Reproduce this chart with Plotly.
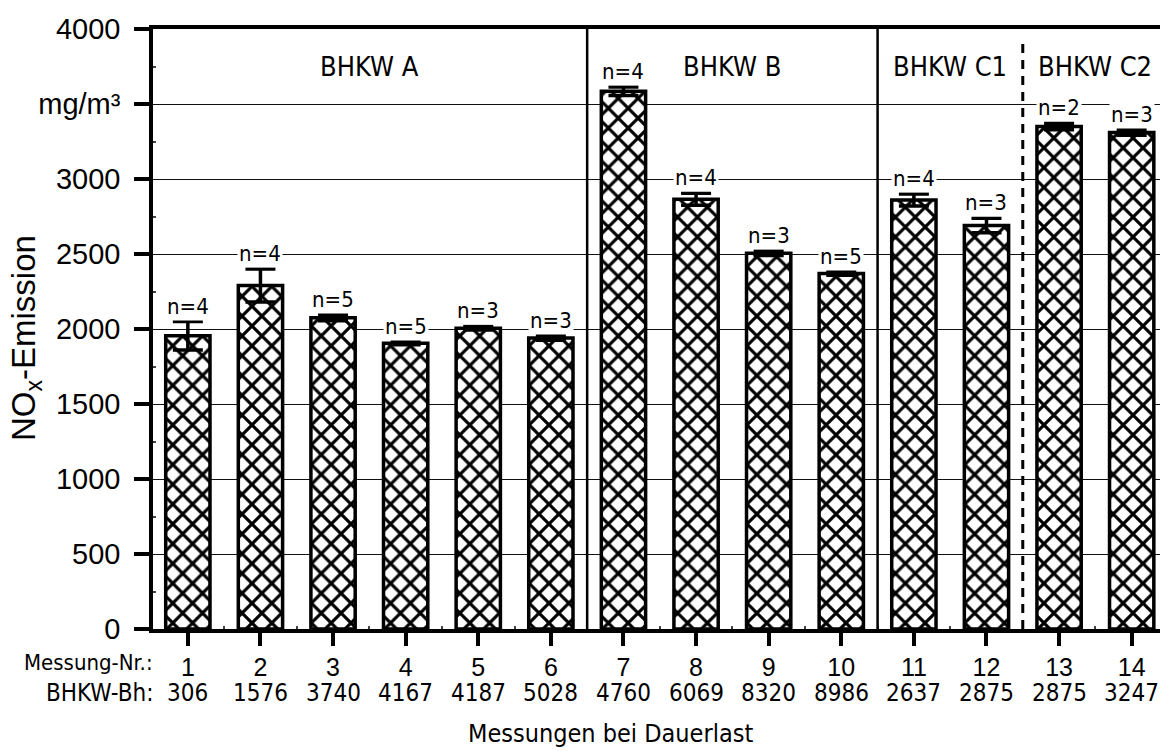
import plotly.graph_objects as go

# ---------------- data ----------------
messung_nr = [1, 2, 3, 4, 5, 6, 7, 8, 9, 10, 11, 12, 13, 14]
bhkw_bh = [306, 1576, 3740, 4167, 4187, 5028, 4760, 6069, 8320, 8986, 2637, 2875, 2875, 3247]
nox_mean = [1955, 2290, 2075, 1905, 2005, 1940, 3585, 2865, 2505, 2370, 2860, 2690, 3350, 3310]
nox_err = [95, 110, 20, 10, 12, 15, 28, 40, 15, 12, 40, 48, 22, 18]
n_mess = [4, 4, 5, 5, 3, 3, 4, 4, 3, 5, 4, 3, 2, 3]
groups = ["BHKW A", "BHKW B", "BHKW C1", "BHKW C2"]
group_sizes = [6, 4, 2, 2]
y_tickvals = [0, 500, 1000, 1500, 2000, 2500, 3000, 3500, 4000]
y_ticktext = ["0", "500", "1000", "1500", "2000", "2500", "3000", "mg/m³", "4000"]

REG = "Liberation Sans"
NARROW = "DejaVu Sans Condensed"

fig = go.Figure()
fig.add_trace(go.Bar(
    x=messung_nr, y=nox_mean, width=0.61,
    marker=dict(color="white",
                line=dict(color="black", width=3.5),
                pattern=dict(shape="x", fgcolor="#000000", fgopacity=1, bgcolor="white",
                             size=14, solidity=0.4)),
    error_y=dict(type="data", array=nox_err, visible=True, color="black", thickness=3.5, width=15),
    showlegend=False, hoverinfo="skip",
))

annotations = []
# n= labels
for x, y, e, n in zip(messung_nr, nox_mean, nox_err, n_mess):
    annotations.append(dict(x=x, y=y + e, xref="x", yref="y", text=f"n={n}", showarrow=False,
                            yanchor="bottom", yshift=1, bgcolor="white", borderpad=1,
                            font=dict(family=NARROW, size=22, color="black")))

# group labels and separators
shapes = []
start = 0
for gi, (gname, gs) in enumerate(zip(groups, group_sizes)):
    first = messung_nr[start]
    last = messung_nr[start + gs - 1]
    annotations.append(dict(x=(first + last) / 2, y=3750, xref="x", yref="y", text=gname,
                            showarrow=False, yanchor="middle",
                            font=dict(family=NARROW, size=27, color="black")))
    if gi < len(groups) - 1:
        bx = last + 0.5
        dashed = groups[gi + 1].startswith(gname[:-1]) and gname[-1].isdigit()
        shapes.append(dict(type="line", xref="x", yref="y", x0=bx, x1=bx,
                           y0=0, y1=4000 if not dashed else 3930,
                           line=dict(color="black", width=2.5 if not dashed else 3,
                                     dash="9px,7px" if dashed else "solid")))
    start += gs

# second row of x labels (operating hours)
for x, bh in zip(messung_nr, bhkw_bh):
    annotations.append(dict(x=x, y=0, xref="x", yref="paper", text=str(bh), showarrow=False,
                            yanchor="middle", yshift=-64,
                            font=dict(family=NARROW, size=24, color="black")))

# row headers
annotations.append(dict(x=0, y=0, xref="paper", yref="paper", text="Messung-Nr.:", showarrow=False,
                        xanchor="right", yanchor="middle", xshift=2, yshift=-33,
                        font=dict(family=NARROW, size=22, color="black")))
annotations.append(dict(x=0, y=0, xref="paper", yref="paper", text="BHKW-Bh:", showarrow=False,
                        xanchor="right", yanchor="middle", xshift=2, yshift=-64,
                        font=dict(family=NARROW, size=24, color="black")))

# axis titles
annotations.append(dict(x=0, y=0.485, xref="paper", yref="paper", text="NO<sub>x</sub>-Emission",
                        showarrow=False, textangle=-90, xanchor="center", yanchor="middle",
                        xshift=-127, font=dict(family=REG, size=33, color="black")))
annotations.append(dict(x=(610 - 153) / (1160 - 153), y=0, xref="paper", yref="paper",
                        text="Messungen bei Dauerlast",
                        showarrow=False, xanchor="center", yanchor="middle", yshift=-104,
                        font=dict(family=NARROW, size=25, color="black")))

fig.update_layout(
    width=1160, height=751,
    margin=dict(l=153, r=0, t=29, b=122),
    paper_bgcolor="white", plot_bgcolor="white",
    annotations=annotations, shapes=shapes,
    xaxis=dict(range=[0.52, 14.39], tickmode="array", tickvals=messung_nr,
               ticktext=[str(m) for m in messung_nr],
               ticks="outside", ticklen=13, tickwidth=4, tickcolor="black",
               showline=True, linecolor="black", linewidth=3.5, mirror=True,
               showgrid=False, zeroline=False,
               tickfont=dict(family=REG, size=25, color="black"),
               minor=dict(tickmode="array", tickvals=[m + 0.5 for m in messung_nr],
                          ticks="inside", ticklen=3, tickwidth=1.5, tickcolor="#444")),
    yaxis=dict(range=[0, 4000], tickmode="array", tickvals=y_tickvals, ticktext=y_ticktext,
               ticks="outside", ticklen=15, tickwidth=3.5, tickcolor="black",
               showline=True, linecolor="black", linewidth=3.5,
               showgrid=True, gridcolor="#111", gridwidth=1.3, zeroline=False,
               ticklabelstandoff=8,
               tickfont=dict(family=REG, size=29, color="black"),
               minor=dict(tickmode="array", tickvals=[v + 250 for v in y_tickvals[:-1]],
                          ticks="inside", ticklen=3, tickwidth=1.5, tickcolor="#444",
                          showgrid=False)),
)

fig.write_html("out.html", config={"displayModeBar": False},
               post_script="document.body.style.margin='0';document.body.style.overflow='hidden';")
